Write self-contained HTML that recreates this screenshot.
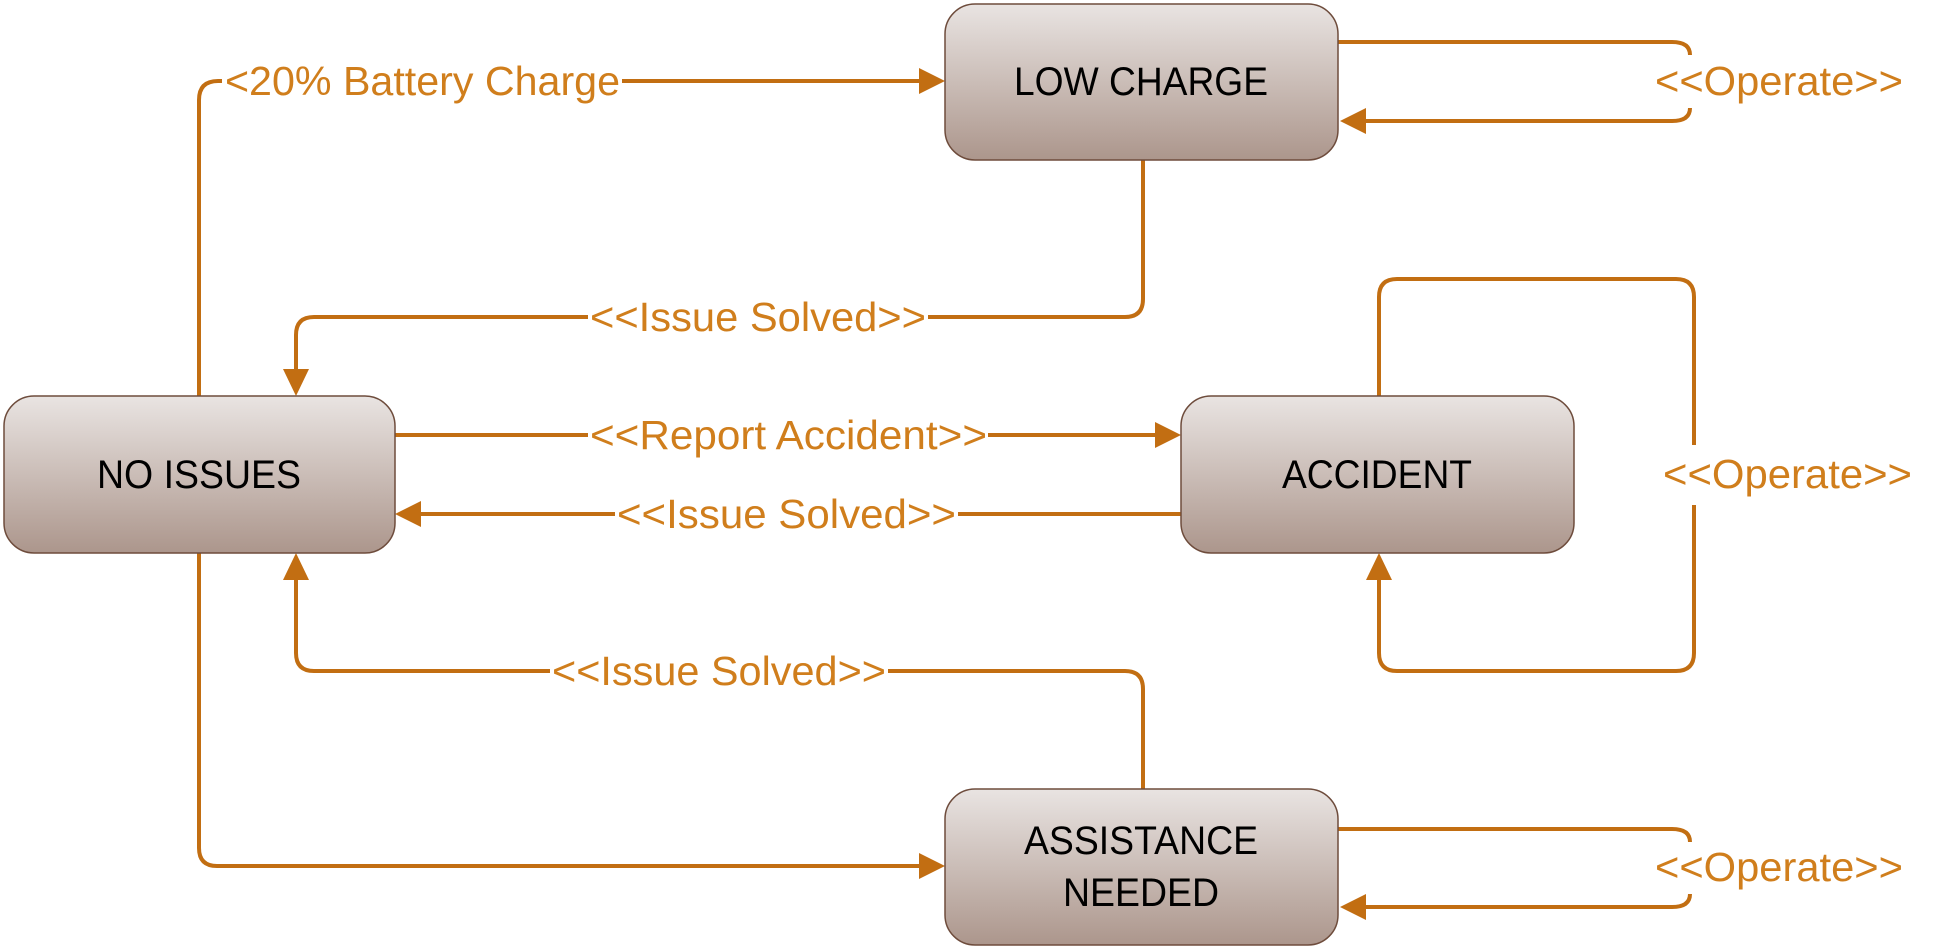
<!DOCTYPE html>
<html><head><meta charset="utf-8"><style>html,body{margin:0;padding:0;background:#fff}svg{display:block}</style></head>
<body>
<svg width="1938" height="950" viewBox="0 0 1938 950" xmlns="http://www.w3.org/2000/svg">
<defs>
<linearGradient id="g" x1="0" y1="0" x2="0" y2="1">
<stop offset="0" stop-color="#E9E4E2"/><stop offset="1" stop-color="#AC968C"/>
</linearGradient>
</defs>
<g fill="none" stroke="#C26E12" stroke-width="4">
<path d="M199 396 V100 Q199 81 218 81 H920"/>
<path d="M1338 42 H1672 Q1690 42 1690 55"/>
<path d="M1690 108 Q1690 121 1672 121 H1365"/>
<path d="M1143 160 V299 Q1143 317 1125 317 H314 Q296 317 296 335 V370"/>
<path d="M395 435 H1156"/>
<path d="M1181 514 H420"/>
<path d="M1379 396 V297 Q1379 279 1397 279 H1676 Q1694 279 1694 297 V653 Q1694 671 1676 671 H1397 Q1379 671 1379 653 V580"/>
<path d="M1143 789 V689 Q1143 671 1125 671 H314 Q296 671 296 653 V580"/>
<path d="M199 553 V848 Q199 866 217 866 H920"/>
<path d="M1338 829 H1672 Q1690 829 1690 842"/>
<path d="M1690 894 Q1690 907 1672 907 H1365"/>
</g>
<g fill="#C26E12">
<polygon points="945,81 919,68 919,94"/>
<polygon points="1340,121 1366,108 1366,134"/>
<polygon points="1340,907 1366,894 1366,920"/>
<polygon points="296,396 283,369 309,369"/>
<polygon points="1181,435 1155,422 1155,448"/>
<polygon points="395,514 421,501 421,527"/>
<polygon points="1379,553 1366,580 1392,580"/>
<polygon points="296,553 283,580 309,580"/>
<polygon points="945,866 919,853 919,879"/>
</g>
<g fill="#fff">
<rect x="222" y="58" width="400" height="46"/>
<rect x="588" y="294" width="340" height="46"/>
<rect x="588" y="412" width="400" height="46"/>
<rect x="615" y="491" width="343" height="46"/>
<rect x="550" y="648" width="338" height="46"/>
<rect x="1650" y="445" width="270" height="60"/>
</g>
<g font-family="Liberation Sans, sans-serif" font-size="41" fill="#D07E1C">
<text x="225" y="95" textLength="395" lengthAdjust="spacingAndGlyphs">&lt;20% Battery Charge</text>
<text x="1655" y="95" textLength="248" lengthAdjust="spacingAndGlyphs">&lt;&lt;Operate&gt;&gt;</text>
<text x="590" y="331" textLength="336" lengthAdjust="spacingAndGlyphs">&lt;&lt;Issue Solved&gt;&gt;</text>
<text x="590" y="449" textLength="397" lengthAdjust="spacingAndGlyphs">&lt;&lt;Report Accident&gt;&gt;</text>
<text x="617" y="528" textLength="339" lengthAdjust="spacingAndGlyphs">&lt;&lt;Issue Solved&gt;&gt;</text>
<text x="1663" y="488" textLength="249" lengthAdjust="spacingAndGlyphs">&lt;&lt;Operate&gt;&gt;</text>
<text x="552" y="685" textLength="334" lengthAdjust="spacingAndGlyphs">&lt;&lt;Issue Solved&gt;&gt;</text>
<text x="1655" y="881" textLength="248" lengthAdjust="spacingAndGlyphs">&lt;&lt;Operate&gt;&gt;</text>
</g>
<g fill="url(#g)" stroke="#6E4C3C" stroke-width="1.5">
<rect x="945" y="4" width="393" height="156" rx="30"/>
<rect x="4" y="396" width="391" height="157" rx="30"/>
<rect x="1181" y="396" width="393" height="157" rx="30"/>
<rect x="945" y="789" width="393" height="156" rx="30"/>
</g>
<g font-family="Liberation Sans, sans-serif" font-size="40" fill="#000" text-anchor="middle">
<text x="1141" y="95" textLength="254" lengthAdjust="spacingAndGlyphs">LOW CHARGE</text>
<text x="199" y="488" textLength="204" lengthAdjust="spacingAndGlyphs">NO ISSUES</text>
<text x="1377" y="488" textLength="190" lengthAdjust="spacingAndGlyphs">ACCIDENT</text>
<text x="1141" y="854" textLength="234" lengthAdjust="spacingAndGlyphs">ASSISTANCE</text>
<text x="1141" y="906" textLength="156" lengthAdjust="spacingAndGlyphs">NEEDED</text>
</g>
</svg>
</body></html>
